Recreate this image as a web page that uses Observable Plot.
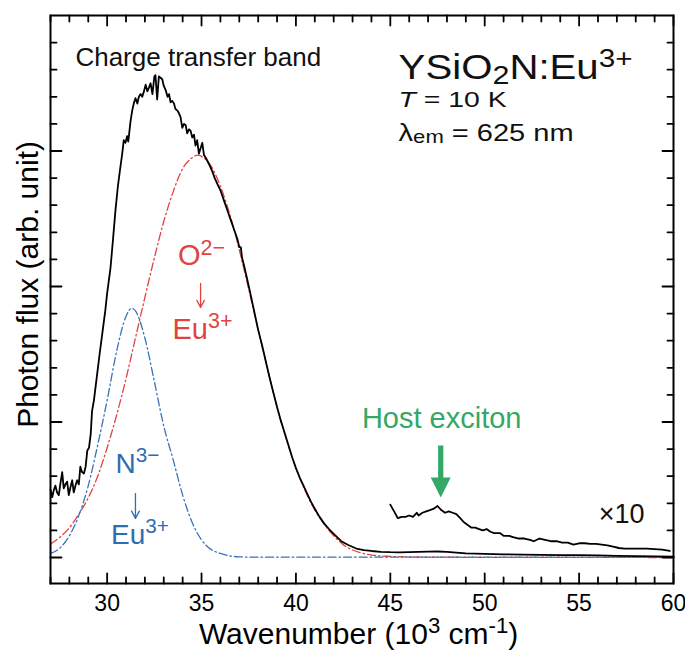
<!DOCTYPE html>
<html><head><meta charset="utf-8">
<script src="https://cdn.jsdelivr.net/npm/d3@7"></script>
<script src="https://cdn.jsdelivr.net/npm/@observablehq/plot@0.6"></script>
<style>body{margin:0;background:#fff}</style>
</head><body><div id="chart"></div>
<script>
// ---- Measured spectrum (T = 10 K, λem = 625 nm) ----
const spectrumX = [27.00,27.09,27.18,27.26,27.35,27.44,27.53,27.62,27.70,27.79,27.88,27.97,28.06,28.15,28.23,28.32,28.41,28.50,28.58,28.67,28.77,28.86,28.95,29.04,29.13,29.20,29.30,29.45,29.60,29.75,29.90,30.00,30.18,30.30,30.44,30.57,30.70,30.80,30.88,30.97,31.06,31.12,31.24,31.33,31.41,31.50,31.60,31.68,31.77,31.86,31.95,32.04,32.13,32.22,32.30,32.40,32.50,32.56,32.65,32.74,32.83,32.92,33.00,33.10,33.20,33.28,33.36,33.45,33.54,33.62,33.71,33.80,33.89,33.98,34.07,34.16,34.24,34.33,34.42,34.51,34.60,34.68,34.77,34.86,34.95,35.04,35.13,35.22,35.30,35.44,35.57,35.70,35.83,36.00,36.20,36.40,36.55,36.70,36.90,37.00,37.08,37.15,37.26,37.44,37.60,37.80,38.00,38.20,38.40,38.60,38.80,39.00,39.20,39.40,39.60,39.80,40.00,40.20,40.40,40.60,40.80,41.00,41.25,41.50,41.75,42.00,42.40,42.80,43.20,43.60,44.00,44.50,45.00,45.50,46.00,46.50,47.00,47.50,48.00,48.50,49.00,50.00,51.00,52.00,53.00,54.00,55.00,56.00,57.00,58.00,59.00,60.00];
const spectrumY = [0.50,0.445,0.50,0.53,0.48,0.46,0.55,0.63,0.51,0.54,0.56,0.46,0.52,0.57,0.48,0.53,0.57,0.54,0.67,0.63,0.62,0.67,0.79,0.81,0.91,1.08,1.16,1.33,1.50,1.66,1.82,1.95,2.14,2.33,2.56,2.74,2.88,2.98,3.08,3.06,3.11,3.07,3.22,3.30,3.35,3.39,3.35,3.40,3.42,3.40,3.44,3.49,3.44,3.47,3.50,3.42,3.55,3.56,3.38,3.55,3.54,3.53,3.48,3.45,3.40,3.42,3.36,3.37,3.35,3.31,3.30,3.28,3.25,3.17,3.20,3.19,3.13,3.16,3.15,3.10,3.12,3.04,3.08,2.98,3.02,3.06,2.97,2.95,2.93,2.89,2.85,2.80,2.76,2.71,2.63,2.55,2.49,2.43,2.35,2.29,2.29,2.21,2.15,2.04,1.94,1.81,1.68,1.57,1.45,1.33,1.22,1.11,1.01,0.92,0.83,0.74,0.66,0.59,0.53,0.47,0.41,0.36,0.30,0.25,0.21,0.175,0.12,0.09,0.066,0.055,0.048,0.042,0.039,0.038,0.040,0.042,0.043,0.044,0.042,0.036,0.030,0.026,0.023,0.021,0.020,0.018,0.017,0.015,0.012,0.010,0.008,0.006];

// ---- Same spectrum, ×10, 45–60 ----
const zoomX = [45.0,45.2,45.4,45.6,45.8,46.0,46.2,46.4,46.5,46.7,46.9,47.1,47.3,47.5,47.7,47.9,48.1,48.3,48.5,48.7,48.9,49.1,49.3,49.5,49.7,49.9,50.1,50.3,50.5,50.8,51.0,51.3,51.5,51.8,52.1,52.4,52.6,52.9,53.2,53.5,53.8,54.1,54.4,54.7,55.0,55.3,55.6,55.9,56.2,56.5,56.8,57.1,57.4,57.8,58.2,58.6,59.0,59.4,59.8];
const zoomY = [0.39,0.34,0.29,0.30,0.30,0.31,0.30,0.33,0.31,0.33,0.34,0.35,0.36,0.38,0.35,0.33,0.34,0.33,0.32,0.29,0.26,0.24,0.22,0.22,0.21,0.20,0.21,0.19,0.18,0.18,0.16,0.16,0.15,0.14,0.14,0.13,0.12,0.14,0.13,0.12,0.12,0.11,0.11,0.095,0.105,0.105,0.10,0.10,0.095,0.09,0.08,0.07,0.065,0.066,0.065,0.066,0.062,0.058,0.048];

// ---- O2- -> Eu3+ component (red) ----
const oBandX = [27.0,27.5,28.0,28.5,29.0,29.5,30.0,30.5,31.0,31.5,32.0,32.5,33.0,33.5,34.0,34.5,34.8,35.0,35.5,36.0,36.5,37.0,37.5,38.0,38.5,39.0,39.5,40.0,40.5,41.0,41.5,42.0,42.5,43.0,43.5,44.0,45.0,46.0,48.0,50.0,60.0];
const oBandY = [0.10,0.15,0.22,0.32,0.44,0.60,0.81,1.05,1.32,1.62,1.92,2.21,2.48,2.70,2.87,2.95,2.97,2.96,2.89,2.74,2.53,2.27,1.98,1.68,1.39,1.11,0.87,0.66,0.49,0.35,0.245,0.16,0.095,0.055,0.032,0.018,0.008,0.004,0.002,0.001,0.0];

// ---- N3- -> Eu3+ component (blue) ----
const nBandX = [27.0,27.5,28.0,28.5,29.0,29.5,30.0,30.5,31.0,31.3,31.5,32.0,32.5,33.0,33.5,34.0,34.5,35.0,35.5,36.0,36.5,37.0,38.0,60.0];
const nBandY = [0.03,0.07,0.16,0.31,0.53,0.83,1.16,1.52,1.78,1.84,1.82,1.62,1.30,0.97,0.72,0.46,0.26,0.13,0.06,0.03,0.012,0.005,0.002,0.002];

// ---- Axis ticks ----
const xMajorTicks = [30,35,40,45,50,55,60];
const xMinorTicks = [27,28,29,31,32,33,34,36,37,38,39,41,42,43,44,46,47,48,49,51,52,53,54,56,57,58,59];
const yMajorTicks = [0,1,2,3];
const yMinorTicks = [0.2,0.4,0.6,0.8,1.2,1.4,1.6,1.8,2.2,2.4,2.6,2.8,3.2,3.4,3.6,3.8];

// ---- Annotations ----
const labelsStart = [
  {x: 28.32, y: 3.63, text: "Charge transfer band", color: "#111", size: 26, fit: 0},
  {x: 45.44, y: 3.528, text: "YSiO_{2}N:Eu^{3+}", color: "#111", size: 35, fit: 234},
  {x: 45.44, y: 3.328, text: "~{T} = 10 K", color: "#111", size: 22, fit: 108},
  {x: 45.44, y: 3.077, text: "λ_{em} = 625 nm", color: "#111", size: 24, fit: 175},
  {x: 56.04, y: 0.258, text: "×10", color: "#111", size: 27, fit: 0}
];
const labelsMiddle = [
  {x: 35.0, y: 2.155, text: "O^{2−}", color: "#e0443f", size: 29},
  {x: 35.05, y: 1.616, text: "Eu^{3+}", color: "#e0443f", size: 29},
  {x: 31.61, y: 0.627, text: "N^{3−}", color: "#2f6db3", size: 28},
  {x: 31.74, y: 0.103, text: "Eu^{3+}", color: "#2f6db3", size: 28},
  {x: 47.72, y: 0.959, text: "Host exciton", color: "#34a866", size: 29}
];
const labelArrows = [
  {x: 34.95, y1: 2.022, y2: 1.845, color: "#e0443f"},
  {x: 31.50, y1: 0.472, y2: 0.288, color: "#2f6db3"}
];
const excitonArrow = [{x: 47.67, y: 0.827}];

const toRows = (xs, ys) => xs.map((x, i) => ({x, y: ys[i]}));
const spectrum = toRows(spectrumX, spectrumY);
const spectrumZoom = toRows(zoomX, zoomY);
const oBand = toRows(oBandX, oBandY);
const nBand = toRows(nBandX, nBandY);

const tickShape = {draw(ctx, l) { ctx.moveTo(0, 0); ctx.lineTo(0, -l); }};
const arrowShape = {draw(ctx, l) {
  const hl = 20, hw = 10, sw = 2.6;
  ctx.moveTo(-sw, 0); ctx.lineTo(-sw, -(l - hl)); ctx.lineTo(-hw, -(l - hl));
  ctx.lineTo(0, -l); ctx.lineTo(hw, -(l - hl)); ctx.lineTo(sw, -(l - hl)); ctx.lineTo(sw, 0); ctx.closePath();
}};
const ticks = (data, ch, anchor, rot, len) => Plot.vector(data, {[ch]: d => d, frameAnchor: anchor, rotate: rot, length: len, anchor: "start", shape: tickShape, stroke: "#000", strokeWidth: 1.8});

const FONT = "'Liberation Sans', Arial, Helvetica, sans-serif";
const dash = "8,3,1.6,3";

const plot = Plot.plot({
  width: 685, height: 654,
  marginLeft: 50, marginRight: 12, marginTop: 15, marginBottom: 71,
  style: {fontFamily: FONT, fontSize: "23px", color: "#000", background: "#fff"},
  x: {domain: [27, 60], label: null},
  y: {domain: [-0.192, 4.0], label: null},
  marks: [
    Plot.line(oBand, {x: "x", y: "y", stroke: "#e0443f", strokeWidth: 1.3, strokeDasharray: dash, curve: "monotone-x"}),
    Plot.line(nBand, {x: "x", y: "y", stroke: "#3a73b8", strokeWidth: 1.3, strokeDasharray: dash, curve: "monotone-x"}),
    Plot.line(spectrum, {x: "x", y: "y", stroke: "#000", strokeWidth: 1.8}),
    Plot.line(spectrumZoom, {x: "x", y: "y", stroke: "#000", strokeWidth: 1.8}),
    Plot.axisX({ticks: xMajorTicks, tickSize: 0, tickPadding: 11, fontSize: 23, label: null}),
    Plot.axisY({ticks: [], tickSize: 0, label: null}),
    ticks(xMajorTicks, "x", "bottom", 0, 10),
    ticks(xMinorTicks, "x", "bottom", 0, 6),
    ticks(xMajorTicks, "x", "top", 180, 10),
    ticks(xMinorTicks, "x", "top", 180, 6),
    ticks(yMajorTicks, "y", "left", 90, 11),
    ticks(yMinorTicks, "y", "left", 90, 6),
    ticks(yMajorTicks, "y", "right", -90, 11),
    ticks(yMinorTicks, "y", "right", -90, 6),
    Plot.frame({stroke: "#000", strokeWidth: 2}),
    Plot.text(labelsStart, {x: "x", y: "y", text: "text", fill: "color", fontSize: "size", textAnchor: "start", lineAnchor: "bottom"}),
    Plot.text(labelsMiddle, {x: "x", y: "y", text: "text", fill: "color", fontSize: "size", textAnchor: "middle", lineAnchor: "bottom"}),
    Plot.arrow(labelArrows, {x: "x", y1: "y1", y2: "y2", stroke: "color", strokeWidth: 1.3, headLength: 14, headAngle: 55}),
    Plot.vector(excitonArrow, {x: "x", y: "y", rotate: 180, length: 52, anchor: "start", shape: arrowShape, fill: "#34a866", stroke: "none"}),
    Plot.text(["Wavenumber (10^{3} cm^{-1})"], {x: () => 43.32, frameAnchor: "bottom", dy: 60, text: d => d, fontSize: 30, textAnchor: "middle", lineAnchor: "bottom"}),
    Plot.text(["Photon flux (arb. unit)"], {y: () => 2.015, frameAnchor: "left", dx: -13, text: d => d, fontSize: 30, rotate: -90, textAnchor: "middle", lineAnchor: "bottom"})
  ]
});
document.getElementById("chart").appendChild(plot);

// Fit selected labels to the width they occupy in the reference
const fitByText = new Map(labelsStart.filter(d => d.fit).map(d => [d.text, d.fit]));

// Rich text: ^{sup}, _{sub}, ~{italic}
plot.querySelectorAll("text").forEach(el => {
  const s = el.textContent;
  const fit = fitByText.get(s);
  if (/[\^_~]\{/.test(s)) {
    const fs = parseFloat(getComputedStyle(el).fontSize);
    el.textContent = "";
    let shift = 0;
    const add = (t, kind) => {
      const ts = document.createElementNS("http://www.w3.org/2000/svg", "tspan");
      let target = 0;
      if (kind === "^") { target = -0.36 * fs; ts.setAttribute("font-size", 0.74 * fs); }
      else if (kind === "_") { target = 0.12 * fs; ts.setAttribute("font-size", 0.76 * fs); }
      else if (kind === "~") { ts.setAttribute("font-style", "italic"); }
      if (target !== shift) ts.setAttribute("dy", target - shift);
      shift = target;
      ts.textContent = t;
      el.appendChild(ts);
    };
    const re = /([\^_~])\{([^}]*)\}/g;
    let last = 0, m;
    while ((m = re.exec(s))) {
      if (m.index > last) add(s.slice(last, m.index), "");
      add(m[2], m[1]);
      last = re.lastIndex;
    }
    if (last < s.length) add(s.slice(last), "");
  }
  if (fit) {
    el.setAttribute("textLength", fit);
    el.setAttribute("lengthAdjust", "spacingAndGlyphs");
  }
});
</script>
</body></html>
